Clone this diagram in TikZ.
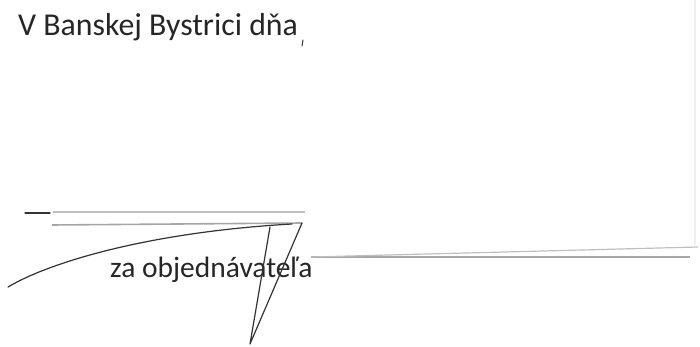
\documentclass[tikz,border=0pt]{standalone}
\usepackage{fontspec}
\setmainfont{Carlito}

\tikzset{
  doctext/.style={anchor=base west, inner sep=0pt, text=black!85},
  scanline/.style={draw=black!35, line width=1.6pt},
  penline/.style={draw=black!80, line width=1.2pt, line cap=round},
}

\begin{document}
\begin{tikzpicture}[x=1pt,y=-1pt]
  \useasboundingbox (0,0) rectangle (700,347);
  \node[doctext, font=\fontsize{31.8}{36}\selectfont] (place) at (18,36) {V Banskej Bystrici dňa};
  \node[doctext, font=\fontsize{29.5}{34}\selectfont] (role) at (110,277) {za objednávateľa};
  \coordinate (tick) at (303,40);
  \draw[penline, line width=1pt] (tick) -- +(-1,6);
  \coordinate (dashL) at (25,213);
  \coordinate (dashR) at (50,213);
  \draw[penline] (dashL) -- (dashR);
  \draw[scanline, draw=black!25, line width=1.2pt] (53,212) -- (305,212);
  \draw[scanline] (52,225) -- (302,223);
  \coordinate (curveA) at (8,287);
  \coordinate (curveB) at (292,224);
  \draw[penline] (curveA) .. controls (50,262) and (150,232) .. (curveB);
  \coordinate (vL) at (270,227);
  \coordinate (vTip) at (250,344);
  \coordinate (vR) at (302,223);
  \draw[penline, line join=round] (vL) -- (vTip) -- (vR);
  \coordinate (lineL) at (311,257);
  \draw[scanline] (lineL) -- (690,257);
  \draw[scanline, draw=black!25, line width=1.2pt] (lineL) -- (698,247);
  \draw[draw=black!6, line width=1.5pt] (695,0) -- (695,245);
\end{tikzpicture}
\end{document}
